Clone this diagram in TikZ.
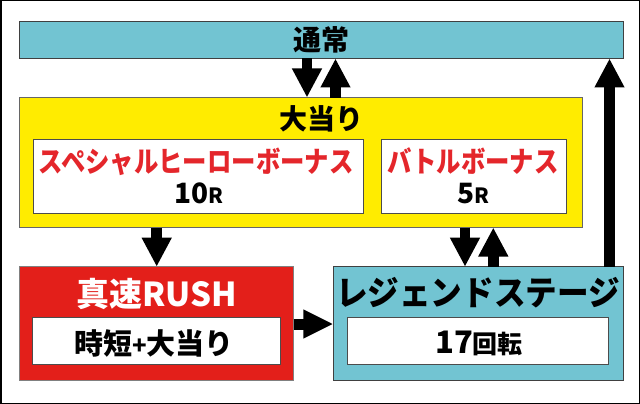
\documentclass[tikz,border=0pt]{standalone}
\usepackage{fontspec}
\usepackage{graphicx}
\setmainfont{Noto Sans CJK JP}[BoldFont={Noto Sans CJK JP Black}]
\usetikzlibrary{arrows.meta}
\definecolor{cyanbox}{HTML}{72C4D2}
\definecolor{yellowbox}{HTML}{FFEC00}
\definecolor{redbox}{HTML}{E31F1A}
\definecolor{redtext}{HTML}{E4262B}
\newcommand{\fs}[1]{\fontsize{#1}{#1}\selectfont}
\newcommand{\sx}[2]{\scalebox{#1}[1]{#2}}
\begin{document}
\begin{tikzpicture}[x=1pt,y=-1pt,
  box/.style={draw=black!75,line width=0.8pt,anchor=north west,inner sep=0pt,outer sep=0pt},
  whitebox/.style={box,fill=white,draw=black!70},
  label/.style={inner sep=0pt,font=\bfseries},
  bigarrow/.style={line width=10.5pt,-{Triangle[width=28pt,length=29pt]}},
  sidearrow/.style={line width=11pt,-{Triangle[width=27pt,length=30pt]}}]
\useasboundingbox (0,0) rectangle (640,404);
\draw[line width=1.5pt] (0.75,0.75) rectangle (639.25,403.25);
% boxes
\node[box,fill=cyanbox,minimum width=604pt,minimum height=37pt] (normal) at (19.5,21.5) {};
\node[box,fill=yellowbox,draw=black!60,minimum width=562.5pt,minimum height=130pt] (bonus) at (19.5,97.5) {};
\node[whitebox,minimum width=330.5pt,minimum height=74.3pt] (sp) at (33.3,139) {};
\node[whitebox,minimum width=185pt,minimum height=74.3pt] (bt) at (381.7,139) {};
\node[box,fill=redbox,draw=black!50,minimum width=274pt,minimum height=114pt] (rush) at (19.5,266.7) {};
\node[whitebox,minimum width=248pt,minimum height=47pt] (rushsub) at (32.5,317.3) {};
\node[box,fill=cyanbox,minimum width=290pt,minimum height=114pt] (legend) at (333.3,266.7) {};
\node[whitebox,minimum width=261pt,minimum height=47pt] (legsub) at (347.7,317.3) {};
% texts
\node[label] (tnormal) at (321,40) {\fs{28}通常};
\node[label] (tbonus) at (321,119) {\fs{28}大当り};
\node[label,text=redtext] (tsp) at (196,161.5) {\sx{0.84}{\fs{29}スペシャルヒーローボーナス}};
\node[label] (tsp2) at (199,193.5) {\fs{28}10{\fs{21}R}};
\node[label,text=redtext] (tbt) at (473,161.5) {\sx{0.84}{\fs{29}バトルボーナス}};
\node[label] (tbt2) at (473,193.5) {\fs{28}5{\fs{21}R}};
\node[label,text=white] (trush) at (157,294) {\fs{33}真速RUSH};
\node[label] (trush2) at (154,343) {\fs{29}時短{\fs{24}+}大当り};
\node[label] (tleg) at (478,293) {\sx{0.93}{\fs{34}レジェンドステージ}};
\node[label] (tleg2) at (479,343) {\fs{31}17{\fs{25}回転}};
% arrow positions
\coordinate (xa) at (307,0);
\coordinate (xb) at (335.5,0);
\coordinate (xc) at (156.7,0);
\coordinate (xd) at (465,0);
\coordinate (xe) at (493.3,0);
\coordinate (xf) at (609.5,0);
\coordinate (yg) at (0,324);
% connectors
\draw[bigarrow] (normal.south -| xa) -- (bonus.north -| xa);
\draw[bigarrow] (bonus.north -| xb) -- (normal.south -| xb);
\draw[bigarrow] (bonus.south -| xc) -- (rush.north -| xc);
\draw[bigarrow] (bonus.south -| xd) -- (legend.north -| xd);
\draw[bigarrow] (legend.north -| xe) -- (bonus.south -| xe);
\draw[bigarrow] (legend.north -| xf) -- (normal.south -| xf);
\draw[sidearrow] (rush.east |- yg) -- (legend.west |- yg);
\end{tikzpicture}
\end{document}
